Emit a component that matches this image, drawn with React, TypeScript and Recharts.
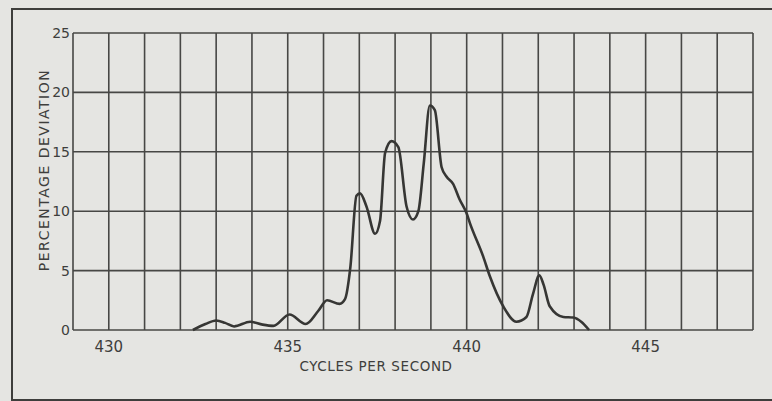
import { CartesianGrid, Line, LineChart, XAxis, YAxis } from 'recharts'

// frequency (cycles per second) and percentage deviation
const cycles = [
  432.35, 432.7, 433.0, 433.25, 433.5, 433.95, 434.3, 434.6, 435.05, 435.5, 435.85,
  436.1, 436.45, 436.6, 436.75, 436.92, 437.02, 437.2, 437.44, 437.58, 437.72, 437.9,
  438.09, 438.32, 438.5, 438.65, 438.8, 438.97, 439.11, 439.3, 439.44, 439.62, 439.8,
  440.0, 440.09, 440.46, 440.65, 441.02, 441.39, 441.67, 441.85, 442.03, 442.15, 442.32,
  442.7, 442.98, 443.2, 443.42,
]
const deviation = [
  0, 0.5, 0.8, 0.6, 0.3, 0.7, 0.45, 0.35, 1.3, 0.5, 1.6,
  2.5, 2.2, 2.6, 5.3, 11.3, 11.5, 10.4, 8.1, 9.2, 14.9, 15.9,
  15.4, 10.4, 9.3, 10.0, 14.0, 18.9, 18.5, 13.7, 12.9, 12.3, 11.0,
  9.8, 9.0, 6.2, 4.5, 2.0, 0.7, 1.1, 3.0, 4.6, 3.8, 2.0,
  1.1, 1.05, 0.7, 0,
]

const xTicks = Array.from({ length: 20 }, (_, i) => 429 + i)
const yTicks = [0, 5, 10, 15, 20, 25]

const rows = cycles.map((c, i) => ({ cps: c, dev: deviation[i] }))

const ink = '#3e3e3c'
const font = '"DejaVu Sans", sans-serif'

export default function App() {
  return (
    <div
      style={{
        position: 'fixed',
        left: 0,
        top: 0,
        width: 772,
        height: 401,
        background: '#e5e5e2',
        overflow: 'hidden',
        fontFamily: font,
      }}
    >
      <div
        style={{
          position: 'absolute',
          left: 11,
          top: 8,
          width: 800,
          height: 389,
          border: `2px solid ${ink}`,
        }}
      />
      <div style={{ position: 'absolute', left: 0, top: 0 }}>
        <LineChart width={772} height={401} data={rows} margin={{ top: 33, right: 19, bottom: 41, left: 13 }}>
          <CartesianGrid stroke="#474745" strokeWidth={1.6} horizontalValues={yTicks} verticalValues={xTicks} />
          <XAxis
            dataKey="cps"
            type="number"
            domain={[429, 448]}
            ticks={xTicks}
            interval={0}
            tickFormatter={(v: number) => (v % 5 === 0 ? String(v) : '')}
            axisLine={false}
            tickLine={false}
            tickSize={0}
            tickMargin={11}
            height={30}
            tick={{ fontSize: 15, fill: ink, fontFamily: font }}
          />
          <YAxis
            type="number"
            domain={[0, 25]}
            ticks={yTicks}
            interval={0}
            axisLine={false}
            tickLine={false}
            tickSize={0}
            tickMargin={3}
            width={60}
            tick={{ fontSize: 14, fill: ink, fontFamily: font }}
          />
          <Line
            dataKey="dev"
            type="monotone"
            stroke="#363634"
            strokeWidth={2.6}
            dot={false}
            isAnimationActive={false}
          />
        </LineChart>
      </div>
      <div
        style={{
          position: 'absolute',
          left: 44,
          top: 170,
          transform: 'translate(-50%, -50%) rotate(-90deg)',
          whiteSpace: 'nowrap',
          fontSize: 14,
          letterSpacing: 1.5,
          color: ink,
        }}
      >
        PERCENTAGE DEVIATION
      </div>
      <div
        style={{
          position: 'absolute',
          left: 376,
          top: 366,
          transform: 'translate(-50%, -50%)',
          whiteSpace: 'nowrap',
          fontSize: 13.5,
          letterSpacing: 0.6,
          color: ink,
        }}
      >
        CYCLES PER SECOND
      </div>
    </div>
  )
}
